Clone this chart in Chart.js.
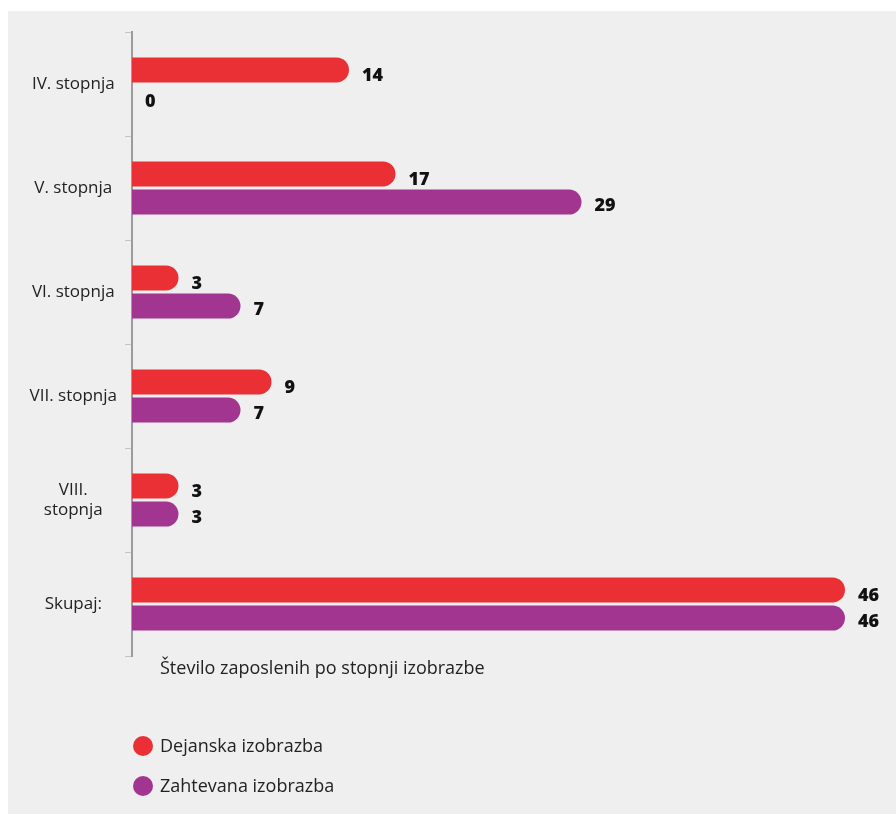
<!DOCTYPE html>
<html>
<head>
<meta charset="utf-8">
<script src="https://cdn.jsdelivr.net/npm/chart.js@4/dist/chart.umd.min.js"></script>
<style>
  html, body { margin: 0; padding: 0; background: #ffffff; }
  #wrap { position: relative; width: 896px; height: 819px; }
</style>
</head>
<body>
<div id="wrap"><canvas id="graf" width="896" height="819"></canvas></div>
<script>
// podatki
const stopnje = ['IV. stopnja', 'V. stopnja', 'VI. stopnja', 'VII. stopnja', ['VIII.', 'stopnja'], 'Skupaj:'];
const dejanska = [14, 17, 3, 9, 3, 46];
const zahtevana = [0, 29, 7, 7, 3, 46];
const serije = ['Dejanska izobrazba', 'Zahtevana izobrazba'];
const naslovOsi = 'Število zaposlenih po stopnji izobrazbe';

const RDECA = '#ea3035';
const VIJOLICNA = '#a2358f';
const PISAVA = '"Open Sans", Roboto, sans-serif';

// ozadje, vrednosti ob stolpcih, naslov osi in legenda
const okrasje = {
    id: 'okrasje',
    beforeDraw(chart) {
        const c = chart.ctx;
        c.save();
        c.fillStyle = '#efefef';
        c.fillRect(8, 11, 888, 803);
        c.restore();
    },
    afterDatasetsDraw(chart) {
        const c = chart.ctx;
        c.save();
        c.font = '800 18px ' + PISAVA;
        c.fillStyle = '#111';
        c.textBaseline = 'middle';
        c.textAlign = 'left';
        chart.data.datasets.forEach((ds, i) => {
            const dy = i === 0 ? 6 : 4;
            chart.getDatasetMeta(i).data.forEach((el, j) => {
                c.fillText(String(ds.data[j]), el.x + 13, el.y + dy);
            });
        });
        c.restore();
    },
    afterDraw(chart) {
        const c = chart.ctx;
        const a = chart.chartArea;
        c.save();
        c.font = '18px ' + PISAVA;
        c.fillStyle = '#222';
        c.textBaseline = 'middle';
        c.fillText(naslovOsi, a.left + 28, a.bottom + 13);
        chart.data.datasets.forEach((ds, i) => {
            const y = a.bottom + 90 + i * 40;
            c.beginPath();
            c.arc(a.left + 11, y, 10, 0, Math.PI * 2);
            c.fillStyle = ds.backgroundColor;
            c.fill();
            c.fillStyle = '#222';
            c.fillText(ds.label, a.left + 28, y + 1);
        });
        c.restore();
    }
};

new Chart(document.getElementById('graf'), {
    type: 'bar',
    data: {
        labels: stopnje,
        datasets: [
            { label: serije[0], data: dejanska, backgroundColor: RDECA },
            { label: serije[1], data: zahtevana, backgroundColor: VIJOLICNA }
        ]
    },
    options: {
        indexAxis: 'y',
        responsive: false,
        animation: false,
        categoryPercentage: 0.54,
        barPercentage: 0.89,
        borderRadius: 100,
        borderSkipped: 'start',
        layout: { padding: { top: 32, right: 51, bottom: 163, left: 0 } },
        plugins: {
            legend: { display: false },
            tooltip: { enabled: false }
        },
        scales: {
            x: {
                display: false,
                min: 0,
                max: Math.max(...dejanska, ...zahtevana)
            },
            y: {
                afterFit: s => { s.width = 132; },
                grid: {
                    display: true,
                    drawOnChartArea: false,
                    drawTicks: true,
                    tickLength: 7,
                    color: '#c4c4c4',
                    offset: true
                },
                border: { display: true, color: '#9c9c9c', width: 2 },
                ticks: {
                    crossAlign: 'center',
                    padding: 8,
                    color: '#222',
                    font: { family: PISAVA, size: 17 }
                }
            }
        }
    },
    plugins: [okrasje]
});
</script>
</body>
</html>
